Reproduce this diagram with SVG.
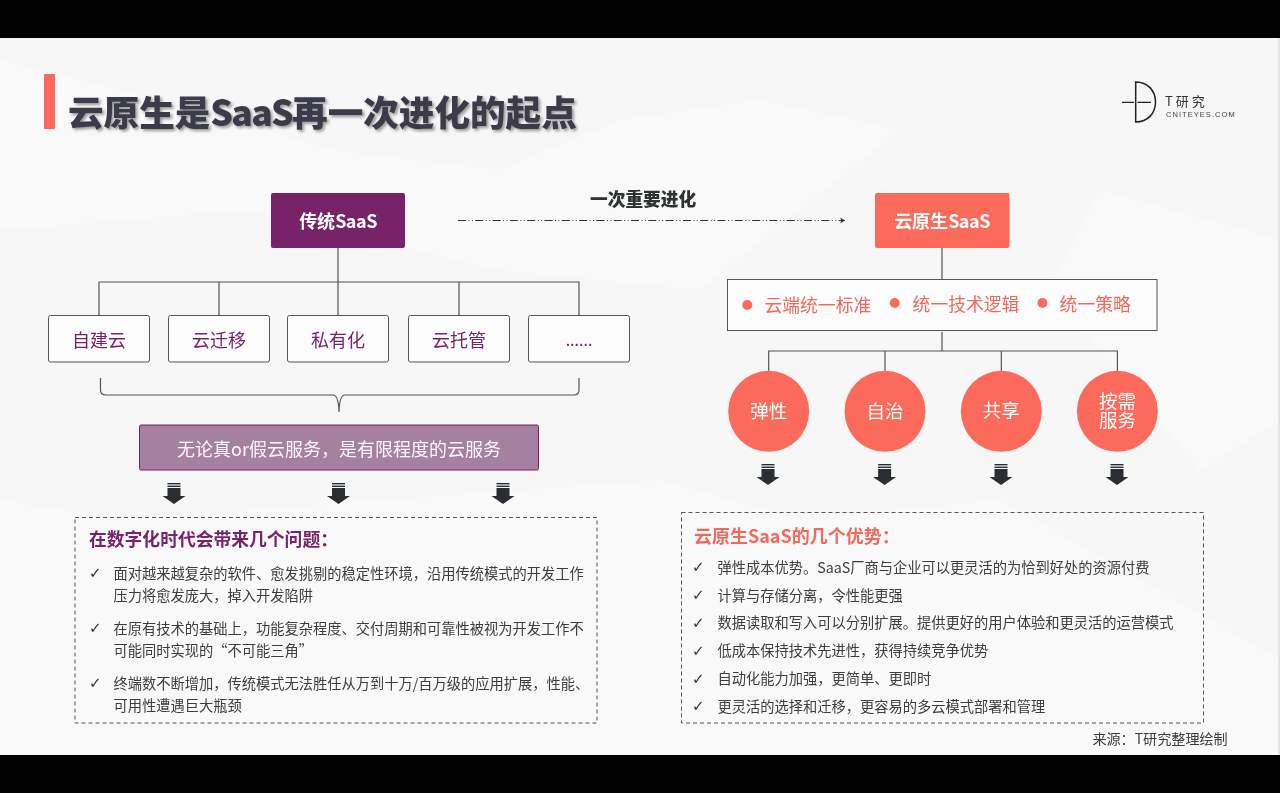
<svg xmlns="http://www.w3.org/2000/svg" width="1280" height="793" viewBox="0 0 1280 793">
<style>
text{font-family:"Noto Sans CJK SC","Noto Sans",sans-serif}
.title{font-size:35.600px;font-weight:900;fill:#3a3a48}
.head{font-size:18px;font-weight:700;fill:#fff;text-anchor:middle}
.tight{letter-spacing:-0.5px}
.kid{font-size:18px;fill:#772469;text-anchor:middle}
.kbox{fill:#fcfcfc;stroke:#555;stroke-width:1}
.conn{fill:none;stroke:#555;stroke-width:1.2}
.dash{fill:none;stroke:#555;stroke-width:1;stroke-dasharray:4 3}
.red{font-size:17.800px;fill:#f0695c}
.circ{fill:#fc6b5b}
.ctext{font-size:18.500px;fill:#fff;text-anchor:middle}
.item{font-size:14.250px;fill:#3c3c3c}
.chk{font-size:15px;font-weight:700;fill:#333;font-family:"DejaVu Sans",sans-serif}
.arr{fill:#2b2d30}
</style>
<defs>
<filter id="soft" x="0" y="0" width="100%" height="100%"><feGaussianBlur stdDeviation="0.35"/></filter>
<filter id="shadow" x="-5%" y="-20%" width="110%" height="150%"><feDropShadow dx="2" dy="2" stdDeviation="1.6" flood-color="#777" flood-opacity="0.75"/></filter>
<marker id="tip" markerWidth="8" markerHeight="8" refX="6" refY="3.500" orient="auto" markerUnits="userSpaceOnUse"><path d="M1 0.500L6 3.500L1 6.500L2.500 3.500Z" fill="#333"/></marker>
<g id="blockArrow"><rect x="-6.500" y="0" width="13" height="1.400"/><rect x="-6.500" y="2.600" width="13" height="1.400"/><path d="M-6.500 5H6.500V13H11.500L0 21L-11.500 13H-6.500Z"/></g>
</defs>
<rect width="1280" height="793" fill="#f7f7f8"/>
<g id="backdrop" fill="#fff" opacity="0.3">
<path d="M0 60L200 110L330 150L500 170L620 120L760 100L900 130L700 290L500 270L250 210L0 230Z"/>
<path d="M1100 190L1280 240V420L1200 470L1050 290Z"/>
<path d="M0 500L120 520L660 480L800 520L1000 500L1280 660V755H0Z"/>
</g>
<rect x="1278" y="38" width="2" height="717" fill="#e4e4e4"/>
<rect width="1280" height="38" fill="#000"/>
<rect y="755" width="1280" height="38" fill="#000"/>
<g filter="url(#soft)">
<g id="title"><rect x="44" y="74" width="11" height="55" fill="#fc6b5b"/><text class="title" x="68" y="125.500" filter="url(#shadow)">云原生是<tspan letter-spacing="-1.700">SaaS</tspan>再一次进化的起点</text></g>
<g id="logo"><path d="M1135.700 82C1148 82 1155.500 91 1155.500 102C1155.500 113 1148 122 1135.700 122Z" fill="none" stroke="#222" stroke-width="1.500"/><path d="M1122 102.300H1134M1137.500 102.300H1151" stroke="#222" stroke-width="1.300"/><text x="1165" y="105.500" font-size="13" letter-spacing="3" fill="#333">T研究</text><text x="1166" y="116.500" font-size="7.500" letter-spacing="1.050" fill="#444" style="font-family:'Liberation Sans',sans-serif">CNITEYES.COM</text></g>
<g id="connectors">
<path class="conn" d="M338 248V315M99 315V282H579V315M219 282V315M459 282V315"/>
<path class="conn" d="M100.500 378V390Q100.500 395 106 395H333Q338.500 395 339 412Q339.500 395 345 395H574Q579 395 579 390V378" stroke-width="1"/>
<path class="conn" d="M942 248V279M942 332V351M768.700 371V351H1117.400V371M885 351V371M1001.300 351V371" stroke-width="1"/>
<path d="M458 220.500H845" fill="none" stroke="#333" stroke-width="1" stroke-dasharray="8 2.500 1 2.400 1 2.400" marker-end="url(#tip)"/>
</g>
<text id="evolve-label" x="590" y="205.500" font-size="17.700" font-weight="900" fill="#2f3033">一次重要进化</text>
<g id="node-traditional"><rect x="271" y="193" width="134" height="55" rx="2" fill="#772469"/><text class="head" x="338" y="228">传统<tspan class="tight">SaaS</tspan></text></g>
<g id="node-native"><rect x="875" y="193" width="134.500" height="55" rx="2" fill="#fc6b5b"/><text class="head" x="942" y="228">云原生<tspan class="tight">SaaS</tspan></text></g>
<g id="kid1"><rect class="kbox" x="48.500" y="315.500" width="101" height="46.500" rx="2"/><text class="kid" x="99" y="346.500">自建云</text></g>
<g id="kid2"><rect class="kbox" x="168.500" y="315.500" width="101" height="46.500" rx="2"/><text class="kid" x="219" y="346.500">云迁移</text></g>
<g id="kid3"><rect class="kbox" x="287.500" y="315.500" width="101" height="46.500" rx="2"/><text class="kid" x="338" y="346.500">私有化</text></g>
<g id="kid4"><rect class="kbox" x="408.500" y="315.500" width="101" height="46.500" rx="2"/><text class="kid" x="459" y="346.500">云托管</text></g>
<g id="kid5"><rect class="kbox" x="528.500" y="315.500" width="101" height="46.500" rx="2"/><text class="kid" x="579" y="346" style="font-size:16px">......</text></g>
<g id="limit"><rect x="139.500" y="425" width="399" height="45" rx="1.500" fill="#a5819f" stroke="#772469" stroke-width="1"/><text x="339" y="455.500" font-size="18" fill="#fbf7fb" text-anchor="middle">无论真or假云服务，是有限程度的云服务</text></g>
<g id="arrows" class="arr">
<use href="#blockArrow" x="174" y="483"/><use href="#blockArrow" x="338.500" y="483"/><use href="#blockArrow" x="503" y="483"/>
<use href="#blockArrow" x="768" y="464"/><use href="#blockArrow" x="884.600" y="464"/><use href="#blockArrow" x="1001" y="464"/><use href="#blockArrow" x="1117" y="464"/>
</g>
<g id="problems"><rect class="dash" x="75" y="517.500" width="522" height="205.500"/>
<text x="89" y="545.500" font-size="17.800" font-weight="700" fill="#772469">在数字化时代会带来几个问题：</text>
<text class="chk" x="89" y="578">✓</text><text class="item" x="113.500" y="579.400">面对越来越复杂的软件、愈发挑剔的稳定性环境，沿用传统模式的开发工作</text><text class="item" x="113.500" y="601.400">压力将愈发庞大，掉入开发陷阱</text>
<text class="chk" x="89" y="633">✓</text><text class="item" x="113.500" y="634.400">在原有技术的基础上，功能复杂程度、交付周期和可靠性被视为开发工作不</text><text class="item" x="113.500" y="656.400">可能同时实现的“不可能三角”</text>
<text class="chk" x="89" y="688">✓</text><text class="item" x="113.500" y="689.400">终端数不断增加，传统模式无法胜任从万到十万/百万级的应用扩展，性能、</text><text class="item" x="113.500" y="711.400">可用性遭遇巨大瓶颈</text>
</g>
<g id="standards"><rect x="727.500" y="279.500" width="429.500" height="51" fill="#fcfcfc" stroke="#555" stroke-width="1"/>
<circle class="circ" cx="747.300" cy="305" r="5"/><text class="red" x="764.500" y="312">云端统一标准</text>
<circle class="circ" cx="894.700" cy="303" r="5"/><text class="red" x="912.600" y="310.500">统一技术逻辑</text>
<circle class="circ" cx="1042.400" cy="303" r="5"/><text class="red" x="1059.600" y="310.500">统一策略</text>
</g>
<g id="c1"><circle class="circ" cx="768.700" cy="411.300" r="40.500"/><text class="ctext" x="768.700" y="417.500">弹性</text></g>
<g id="c2"><circle class="circ" cx="885" cy="411.300" r="40.500"/><text class="ctext" x="885" y="417.500">自治</text></g>
<g id="c3"><circle class="circ" cx="1001.300" cy="411.300" r="40.500"/><text class="ctext" x="1001.300" y="417">共享</text></g>
<g id="c4"><circle class="circ" cx="1117.400" cy="411.300" r="40.500"/><text class="ctext"><tspan x="1117.400" y="407.500">按需</tspan><tspan x="1117.400" y="427">服务</tspan></text></g>
<g id="advantages"><rect class="dash" x="681.500" y="512.500" width="522" height="210.500"/>
<text x="694" y="542.500" font-size="18" font-weight="700" fill="#f0695c">云原生SaaS的几个优势：</text>
<text class="chk" x="692" y="572">✓</text><text class="item" x="717.400" y="572.700">弹性成本优势。SaaS厂商与企业可以更灵活的为恰到好处的资源付费</text>
<text class="chk" x="692" y="600">✓</text><text class="item" x="717.400" y="600.700">计算与存储分离，令性能更强</text>
<text class="chk" x="692" y="627.500">✓</text><text class="item" x="717.400" y="628.400">数据读取和写入可以分别扩展。提供更好的用户体验和更灵活的运营模式</text>
<text class="chk" x="692" y="655.500">✓</text><text class="item" x="717.400" y="656.100">低成本保持技术先进性，获得持续竞争优势</text>
<text class="chk" x="692" y="683.500">✓</text><text class="item" x="717.400" y="684.400">自动化能力加强，更简单、更即时</text>
<text class="chk" x="692" y="711">✓</text><text class="item" x="717.400" y="712.100">更灵活的选择和迁移，更容易的多云模式部署和管理</text>
</g>
<text id="source" x="1092.400" y="744.100" font-size="14.100" fill="#3c3c3c">来源：T研究整理绘制</text>
</g>
</svg>
